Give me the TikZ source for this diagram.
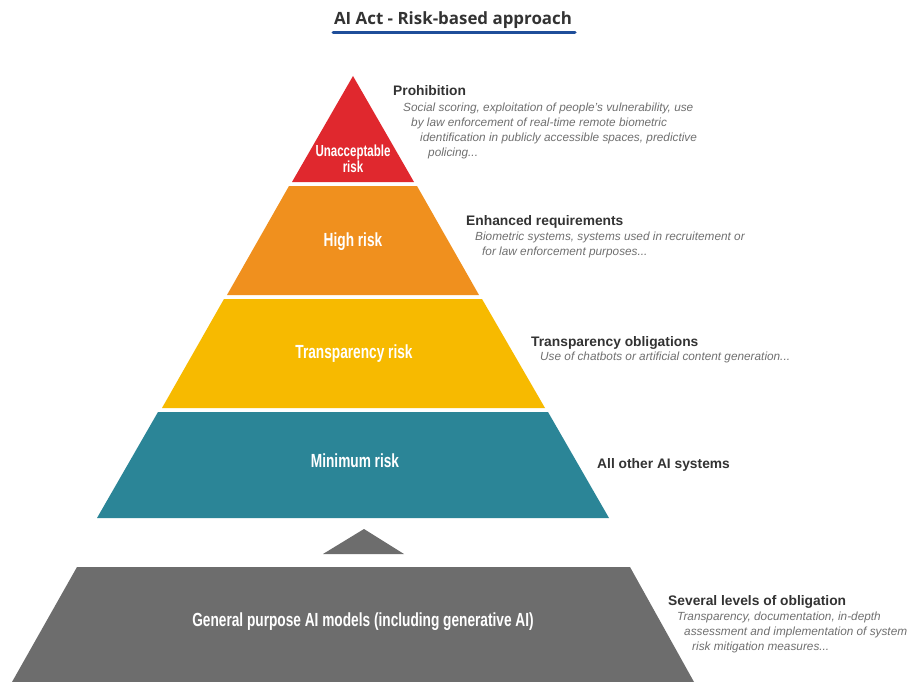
\documentclass[tikz,border=0pt]{standalone}
\usepackage{fontspec}
\setmainfont{Liberation Sans}
\newfontfamily\titlefont{Open Sans}
\newfontfamily\condfont[FakeStretch = 0.72]{Liberation Sans}
\usetikzlibrary{positioning}

\definecolor{riskred}{HTML}{E0282E}
\definecolor{riskorange}{HTML}{F0901E}
\definecolor{riskyellow}{HTML}{F7BA00}
\definecolor{riskteal}{HTML}{2B8597}
\definecolor{riskgray}{HTML}{6D6D6D}
\definecolor{titleblue}{HTML}{1F4E9A}
\definecolor{headgray}{HTML}{333333}
\definecolor{descgray}{HTML}{707070}

\begin{document}
\begin{tikzpicture}[x = 1pt, y = -1pt,
		layer/.style = {text = white, font = \condfont\bfseries\fontsize{19}{21}\selectfont, align = center},
		head/.style = {anchor = base west, inner sep = 0pt, text = headgray, font = \bfseries\fontsize{13.8}{15}\selectfont},
		desc/.style = {anchor = north west, inner sep = 0pt, align = left, text = descgray, font = \itshape\fontsize{11.8}{15}\selectfont}]
					\useasboundingbox [fill = white] (0, 0) rectangle (913, 682);

					\coordinate (a1) at (353, 76);
					\coordinate (a2) at (292, 182);
					\coordinate (a3) at (414, 182);

					\coordinate (b1) at (289, 186);
					\coordinate (b2) at (417, 186);
					\coordinate (b3) at (479, 295);
					\coordinate (b4) at (227, 295);

					\coordinate (c1) at (224, 299);
					\coordinate (c2) at (482, 299);
					\coordinate (c3) at (545, 408);
					\coordinate (c4) at (162, 408);

					\coordinate (d1) at (158, 412);
					\coordinate (d2) at (548, 412);
					\coordinate (d3) at (609, 518);
					\coordinate (d4) at (97, 518);

					\coordinate (e1) at (364, 529);
					\coordinate (e2) at (404, 554);
					\coordinate (e3) at (323, 554);

					\coordinate (f1) at (77, 567);
					\coordinate (f2) at (630, 567);
					\coordinate (f3) at (694, 682);
					\coordinate (f4) at (12, 682);

					\draw [fill = riskred, draw = none] (a1) -- (a2) -- (a3) -- cycle;
					\draw [fill = riskorange, draw = none] (b1) -- (b2) -- (b3) -- (b4) -- cycle;
					\draw [fill = riskyellow, draw = none] (c1) -- (c2) -- (c3) -- (c4) -- cycle;
					\draw [fill = riskteal, draw = none] (d1) -- (d2) -- (d3) -- (d4) -- cycle;
					\draw [fill = riskgray, draw = none] (e1) -- (e2) -- (e3) -- cycle;
					\draw [fill = riskgray, draw = none] (f1) -- (f2) -- (f3) -- (f4) -- cycle;

					% title
					\node [text = headgray, font = \titlefont\bfseries\fontsize{16.9}{19}\selectfont] (title) at (453, 20) {AI Act - Risk-based approach};
					\coordinate (u1) at (333, 33);
					\coordinate (u2) at (575, 33);
					\draw [titleblue, line width = 3pt, line cap = round] (u1) -- (u2);

					% layers
					\node [layer, font = \condfont\bfseries\fontsize{16}{16}\selectfont] (unacc) at (353, 159) {Unacceptable\\risk};
					\node [layer] (high) at (353, 242) {High risk};
					\node [layer] (transp) at (354, 354) {Transparency risk};
					\node [layer] (minimum) at (355, 461) {Minimum risk};
					\node [layer] (general) at (363, 622) {General purpose AI models (including generative AI)};

					% obligations
					\node [head] (prohib) at (393, 96) {Prohibition};
					\node [desc] (prohibtext) at (403, 102.5) {Social scoring, exploitation of people's vulnerability, use\\
						\hspace*{8pt}by law enforcement of real-time remote biometric\\
						\hspace*{17pt}identification in publicly accessible spaces, predictive\\
						\hspace*{25pt}policing...};

					\node [head] (enhanced) at (466, 225) {Enhanced requirements};
					\node [desc] (enhancedtext) at (475, 231.5) {Biometric systems, systems used in recruitement or\\
						\hspace*{7pt}for law enforcement purposes...};

					\node [head] (oblig) at (531, 346) {Transparency obligations};
					\node [desc] (obligtext) at (540, 351.5) {Use of chatbots or artificial content generation...};

					\node [head] (other) at (597, 468) {All other AI systems};

					\node [head] (several) at (668, 605) {Several levels of obligation};
					\node [desc] (severaltext) at (677, 611.5) {Transparency, documentation, in-depth\\
						\hspace*{7pt}assessment and implementation of system\\
						\hspace*{15pt}risk mitigation measures...};
				\end{tikzpicture}
\end{document}
